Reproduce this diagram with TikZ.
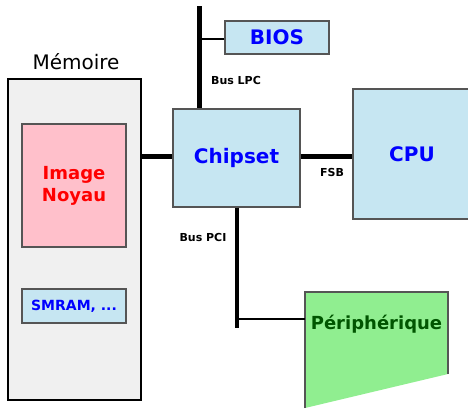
\documentclass[tikz,border=0pt]{standalone}
\usepackage{fontspec}
\setmainfont{DejaVu Sans}
\usepackage{tikz}
\usetikzlibrary{positioning, calc}
\definecolor{boxblue}{RGB}{198,230,242}
\definecolor{memgray}{RGB}{240,240,240}
\definecolor{noyaupink}{RGB}{255,192,203}
\definecolor{perigreen}{RGB}{144,238,144}
\definecolor{peritext}{RGB}{0,85,0}
\definecolor{edgegray}{RGB}{85,85,85}

\tikzset{
  bluebox/.style={rectangle, draw=edgegray, line width=1.2pt, fill=boxblue,
                  text=blue, font=\bfseries, inner sep=0pt},
  buslabel/.style={font=\bfseries\fontsize{11}{13}\selectfont},
  bigbus/.style={line width=4.5pt},
  smallbus/.style={line width=2.8pt}
}

\begin{document}
\begin{tikzpicture}[x=1pt, y=-1pt]
  \useasboundingbox (0,0) rectangle (468,408);
  \clip (0,0) rectangle (468,408);

  % memoire
  \node[rectangle, draw=black, line width=2pt, fill=memgray,
        minimum width=133pt, minimum height=321pt, inner sep=0pt]
        (mem) at (74.5,239.5) {};
  \node[font=\fontsize{20}{24}\selectfont] (memlabel) at (76,62) {Mémoire};
  \node[rectangle, draw=edgegray, line width=1.2pt, fill=noyaupink,
        minimum width=104pt, minimum height=123pt, inner sep=0pt,
        text=red, align=center, font=\bfseries\fontsize{18}{22}\selectfont]
        (noyau) at (74,185.5) {Image\\Noyau};
  \node[bluebox, minimum width=104pt, minimum height=34pt,
        font=\bfseries\fontsize{14}{16}\selectfont]
        (smram) at (74,306) {SMRAM, ...};

  % chipset, bios, cpu
  \node[bluebox, minimum width=127pt, minimum height=98pt,
        font=\bfseries\fontsize{20}{24}\selectfont]
        (chipset) at (236.5,158) {Chipset};
  \node[bluebox, minimum width=104pt, minimum height=33pt,
        font=\bfseries\fontsize{20}{24}\selectfont]
        (bios) at (277,37.5) {BIOS};
  \node[bluebox, minimum width=118pt, minimum height=130pt,
        font=\bfseries\fontsize{20}{24}\selectfont]
        (cpu) at (412,154) {CPU};

  % peripherique
  \fill[perigreen] (305,292) -- (448,292) -- (448,374) -- (305,408) -- cycle;
  \draw[edgegray, line width=1.2pt] (305,408) -- (305,292) -- (448,292) -- (448,374);
  \node[text=peritext, font=\bfseries\fontsize{18}{22}\selectfont]
        (peri) at (376.5,324) {Périphérique};
  \coordinate (periw) at (305,319);

  % bus
  \coordinate (lpctop) at (199.5,6);
  \coordinate (pcibot) at (237,328);
  \draw[bigbus] (mem.east |- 0,156.5) -- (chipset.west |- 0,156.5);
  \draw[bigbus] (chipset.east |- 0,156.5) -- (cpu.west |- 0,156.5);
  \draw[bigbus] (lpctop) -- (lpctop |- chipset.north);
  \draw[smallbus] (bios.west |- 0,39) -- (lpctop |- 0,39);
  \draw[bigbus] (pcibot |- chipset.south) -- (pcibot);
  \draw[smallbus] (periw) -- (periw -| pcibot);

  \node[buslabel] (lpc) at (236,80) {Bus LPC};
  \node[buslabel] (fsb) at (332,172) {FSB};
  \node[buslabel] (pci) at (203,237) {Bus PCI};
\end{tikzpicture}
\end{document}
